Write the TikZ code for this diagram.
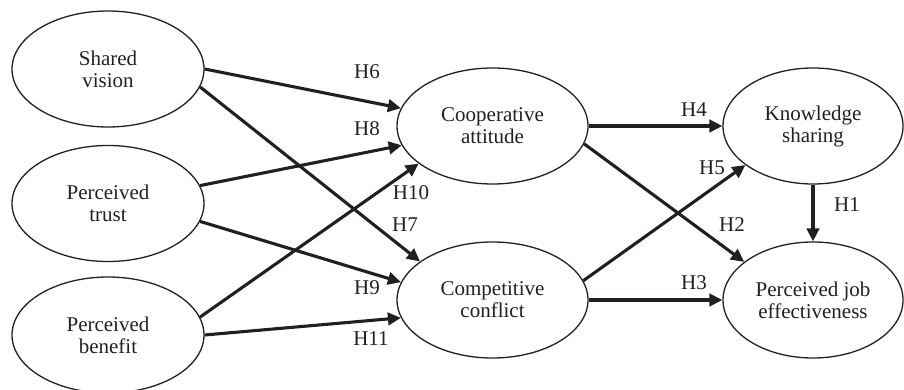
\documentclass[tikz,border=0pt]{standalone}
\usepackage{fontspec}
\setmainfont{Liberation Serif}
\usetikzlibrary{shapes.geometric,arrows.meta}
\definecolor{ink}{HTML}{231F20}
\begin{document}
\begin{tikzpicture}[x=1pt,y=-1pt,
  construct/.style={ellipse,draw=ink,line width=1.3pt,inner sep=0pt,align=center,
    text=ink,font=\fontsize{21}{22}\selectfont},
  smallell/.style={construct,minimum width=192pt,minimum height=116pt},
  bigell/.style={construct,minimum width=191pt,minimum height=116pt},
  rightell/.style={construct,minimum width=180pt,minimum height=116pt},
  path/.style={draw=ink,line width=3.1pt,-{Triangle[length=13pt,width=12.5pt]}},
  hyp/.style={text=ink,font=\fontsize{21}{22}\selectfont,inner sep=0pt}]
\useasboundingbox (0,0) rectangle (904,390);
\node[smallell] (sv) at (108,69) {Shared\\vision};
\node[smallell] (pt) at (108,203.5) {Perceived\\trust};
\node[smallell] (pb) at (108,335) {Perceived\\benefit};
\node[bigell] (ca) at (492.5,126) {Cooperative\\attitude};
\node[bigell] (cc) at (492.5,300) {Competitive\\conflict};
\node[rightell] (ks) at (813,126) {Knowledge\\sharing};
\node[rightell] (pje) at (813,300) {Perceived job\\effectiveness};

\draw[path] (sv.0) -- (ca.169);
\draw[path] (sv.-11) -- (cc.152);
\draw[path] (pt.11) -- (ca.192);
\draw[path] (pt.-11) -- (cc.169);
\draw[path] (pb.11) -- (ca.207);
\draw[path] (pb.0) -- (cc.191);
\draw[path] (ca.east) -- (ks.west);
\draw[path] (ca.-11) -- (pje.151);
\draw[path] (cc.12) -- (ks.210);
\draw[path] (cc.east) -- (pje.west);
\draw[path] (ks.south) -- (pje.north);

\node[hyp] (h6) at (367,72) {H6};
\node[hyp] (h8) at (367,129) {H8};
\node[hyp] (h10) at (411,193) {H10};
\node[hyp] (h7) at (405,224.5) {H7};
\node[hyp] (h9) at (367,287.5) {H9};
\node[hyp] (h11) at (371,338.5) {H11};
\node[hyp] (h4) at (694,109.5) {H4};
\node[hyp] (h5) at (712,167.5) {H5};
\node[hyp] (h2) at (732,224.5) {H2};
\node[hyp] (h3) at (694,282.5) {H3};
\node[hyp] (h1) at (847,205) {H1};
\end{tikzpicture}
\end{document}
